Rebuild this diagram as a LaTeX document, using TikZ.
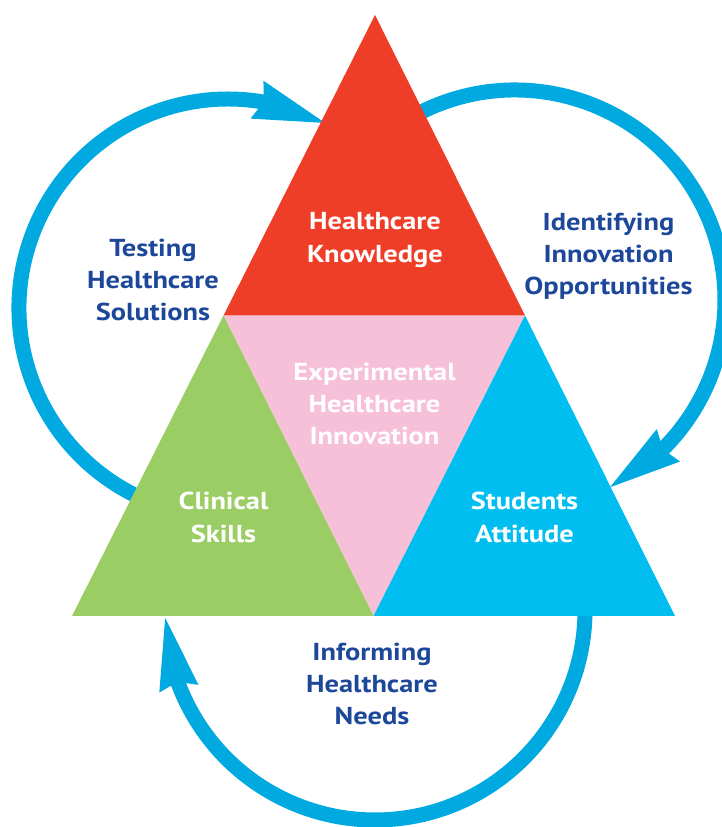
\documentclass[tikz,border=0pt]{standalone}
\usepackage{fontspec}
\setmainfont{PT Sans}[FakeStretch=1.16]
\usetikzlibrary{arrows.meta,bending}
\definecolor{tred}{RGB}{239,62,40}
\definecolor{tpink}{RGB}{246,192,216}
\definecolor{tgreen}{RGB}{155,205,101}
\definecolor{tcyan}{RGB}{0,190,240}
\definecolor{arrowblue}{RGB}{0,169,224}
\definecolor{textblue}{RGB}{29,72,154}
\newcommand\lblstrut{\rule[-8pt]{0pt}{28pt}}
\begin{document}
\begin{tikzpicture}[x=1pt,y=1pt,
  lbl/.style={align=center, inner sep=0pt, font=\bfseries\fontsize{24.5}{32.3}\selectfont},
  inlbl/.style={lbl, text=white},
  outlbl/.style={lbl, text=textblue},
  loopline/.style={draw=arrowblue, line width=15pt,
    -{Stealth[length=72pt,width=40pt,inset=7pt,line width=0pt,flex=1]}},
  piece/.style={draw=none}
]
\useasboundingbox (0,0) rectangle (722,827);
\clip (0,0) rectangle (722,827);

% corner coordinates of the big triangle
\coordinate (A)  at (375,812);
\coordinate (L)  at (72,211);
\coordinate (R)  at (675,211);
\coordinate (ML) at (223.5,511.5);
\coordinate (MR) at (525,511.5);
\coordinate (MB) at (373.5,211);

% centres of the three loops
\coordinate (cL) at (228,519);
\coordinate (cR) at (515,527);
\coordinate (cB) at (375,217);

% loops (drawn first, so that the triangles cover their tails)
\draw[loopline] (cL) ++(250:209) arc[start angle=250, end angle=62.3, radius=209];
\draw[loopline] (cR) ++(121:210) arc[start angle=121, end angle=-63.1, radius=210];
\draw[loopline] (cB) ++(4:210) arc[start angle=4, end angle=-177.8, radius=210];

% triangles
\fill[tpink]  (ML) -- (MR) -- (MB) -- cycle;
\fill[tred]   (A) -- (ML) -- (MR) -- cycle;
\fill[tgreen] (ML) -- (L) -- (MB) -- cycle;
\fill[tcyan]  (MR) -- (MB) -- (R) -- cycle;

% labels inside
\node[inlbl] (know)  at (375,587)   {\lblstrut Healthcare\\Knowledge\lblstrut};
\node[inlbl] (exper) at (374.5,420.5) {\lblstrut Experimental\\Healthcare\\Innovation\lblstrut};
\node[inlbl] (clin)  at (223.5,307) {\lblstrut Clinical\\Skills\lblstrut};
\node[inlbl] (stud)  at (524.5,307) {\lblstrut Students\\Attitude\lblstrut};

% labels outside
\node[outlbl] (test)  at (153,544.5)   {\lblstrut Testing\\Healthcare\\Solutions\lblstrut};
\node[outlbl] (ident) at (608.5,570.5) {\lblstrut Identifying\\Innovation\\Opportunities\lblstrut};
\node[outlbl] (inform) at (372,140.5)  {\lblstrut Informing\\Healthcare\\Needs\lblstrut};
\end{tikzpicture}
\end{document}
